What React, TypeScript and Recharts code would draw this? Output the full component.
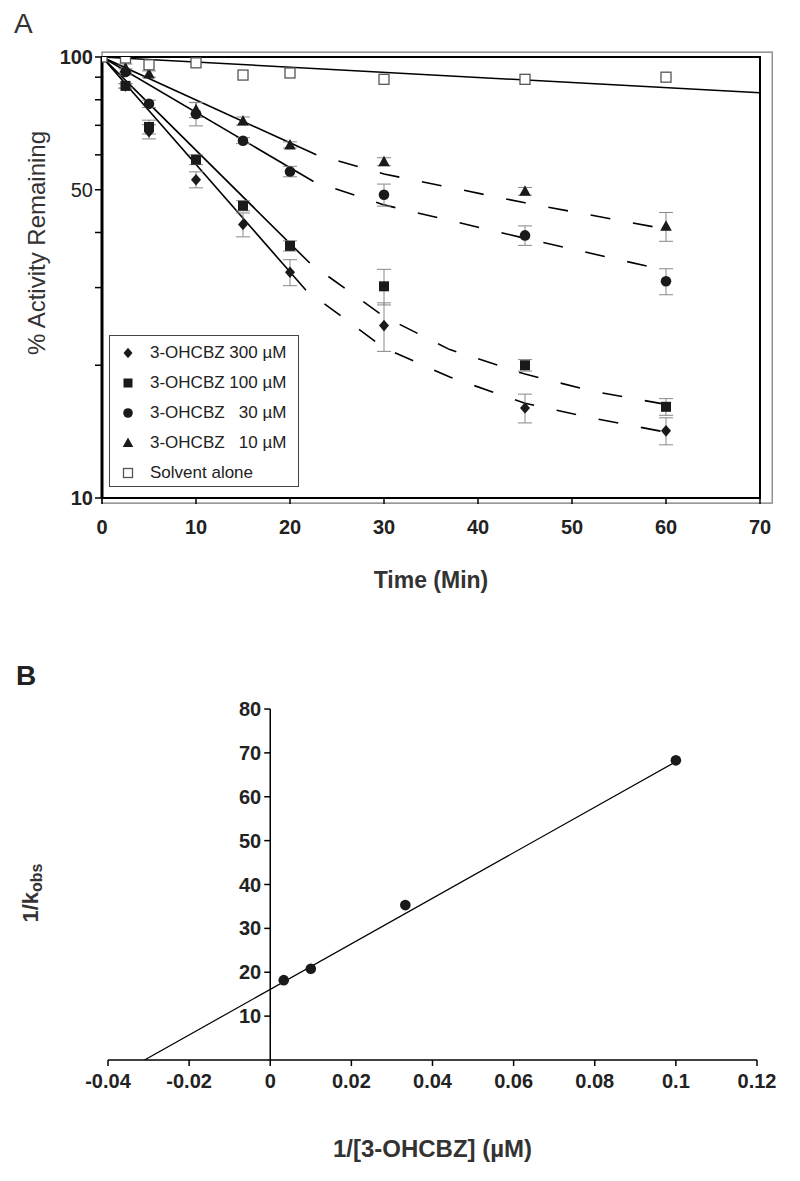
import React from 'react';
import {
  ComposedChart, Scatter, Line, XAxis, YAxis, ErrorBar,
  ReferenceArea, ReferenceLine, ReferenceDot, Legend,
} from 'recharts';

// ---- Panel A: % activity remaining vs time (log y) ----
const times = [0, 2.5, 5, 10, 15, 20, 30, 45, 60];
const act300 = [100, 86, 67.7, 52.7, 41.7, 32.5, 24.6, 16.0, 14.2];
const sem300 = [0, 1, 2.5, 2.2, 2.6, 2.2, 3.1, 1.2, 1.0];
const act100 = [100, 86, 69.4, 58.5, 46.0, 37.3, 30.2, 20.0, 16.1];
const sem100 = [0, 1, 2.5, 1.5, 1.2, 1.0, 2.8, 0.6, 0.7];
const act30 = [100, 92.5, 78.3, 74.3, 64.6, 55.0, 48.7, 39.4, 31.0];
const sem30 = [0, 1.5, 1.5, 4.5, 1.0, 1.5, 2.8, 2.0, 2.1];
const act10 = [100, 94.4, 91.5, 75.9, 71.6, 63.2, 57.9, 49.6, 41.3];
const sem10 = [0, 2, 1.5, 3, 1.5, 1, 1.2, 1, 3.1];
const actSolvent = [100, 99.5, 96, 97, 91, 92, 89, 89, 90];

// fitted curves (solid early phase, dashed later phase)
const fit300SolidT = [0, 21.7];
const fit300SolidY = [100, 29.6];
const fit300DashT = [21.7, 30, 37, 45, 52, 60];
const fit300DashY = [29.6, 21.9, 18.8, 16.4, 15.2, 14.1];
const fit100SolidT = [0, 22.1];
const fit100SolidY = [100, 34.1];
const fit100DashT = [22.1, 30, 37, 45, 52, 60];
const fit100DashY = [34.1, 25.8, 21.7, 19.1, 17.5, 16.3];
const fit30SolidT = [0, 22.5];
const fit30SolidY = [100, 52.2];
const fit30DashT = [22.5, 30, 45, 60];
const fit30DashY = [52.2, 46.2, 38.8, 32.8];
const fit10SolidT = [0, 22.8];
const fit10SolidY = [100, 60];
const fit10DashT = [22.8, 30, 45, 60];
const fit10DashY = [60, 54.3, 46.7, 40.7];
const fitSolventT = [0, 70];
const fitSolventY = [100, 83];

const timeTicks = [0, 10, 20, 30, 40, 50, 60, 70];
const activityTicks = [10, 20, 30, 40, 50, 60, 70, 80, 90, 100];
const activityLabels = [10, 50, 100];

const legendLabels = ['3-OHCBZ 300 \u00b5M', '3-OHCBZ 100 \u00b5M', '3-OHCBZ   30 \u00b5M', '3-OHCBZ   10 \u00b5M', 'Solvent alone'];
const legendKinds = ['diamond', 'square', 'circle', 'triangle', 'open'];

// ---- Panel B: double reciprocal plot ----
const invConc = [0.00333, 0.01, 0.0333, 0.1];
const invKobs = [18.2, 20.8, 35.3, 68.3];
const fitBX = [-0.031, 0.1];
const fitBY = [0, 68];
const xTicksB = [-0.04, -0.02, 0, 0.02, 0.04, 0.06, 0.08, 0.1, 0.12];
const yTicksB = [10, 20, 30, 40, 50, 60, 70, 80];

const pts = (ts: number[], ys: number[], es?: number[]) =>
  ts.map((t, i) => ({ t, y: ys[i], err: es ? es[i] : 0 }));

const narrow = "'Liberation Sans Narrow', 'Liberation Sans', Arial, sans-serif";
const sans = "'Liberation Sans', Arial, sans-serif";
const ink = '#1a1a1a';

const Mark = ({ cx, cy, kind, s = 10 }: any) => {
  const h = s / 2;
  if (kind === 'diamond')
    return <path d={`M${cx},${cy - h - 0.8}L${cx + h},${cy}L${cx},${cy + h + 0.8}L${cx - h},${cy}Z`} fill={ink} />;
  if (kind === 'square') return <rect x={cx - h} y={cy - h} width={s} height={s} fill={ink} />;
  if (kind === 'circle') return <circle cx={cx} cy={cy} r={h + 0.3} fill={ink} />;
  if (kind === 'triangle')
    return <path d={`M${cx},${cy - h - 1}L${cx + h + 0.8},${cy + h - 0.5}L${cx - h - 0.8},${cy + h - 0.5}Z`} fill={ink} />;
  return <rect x={cx - h} y={cy - h} width={s} height={s} fill="#fff" stroke="#555" strokeWidth={1.3} />;
};

const shapeOf = (kind: string, s?: number) => (p: any) => <Mark cx={p.cx} cy={p.cy} kind={kind} s={s} />;

const TimeTick = ({ x, y, payload }: any) => (
  <text x={x} y={y} dy={28} textAnchor="middle" fontFamily={narrow} fontWeight={700} fontSize={20} fill="#222">
    {payload.value}
  </text>
);

const ActivityTick = ({ x, y, payload }: any) => {
  const v = payload.value;
  if (!activityLabels.includes(v)) return <g />;
  const plain = v === 50;
  return (
    <text x={x} y={y} textAnchor="end" dominantBaseline="central" fontFamily={plain ? sans : narrow}
      fontWeight={plain ? 400 : 700} fontSize={20} fill="#222">
      {v}
    </text>
  );
};

const LegendA = () => (
  <div style={{ border: '1px solid #444', background: '#fff', width: 190, height: 152, boxSizing: 'border-box', paddingTop: 2, fontFamily: sans, fontSize: 17, color: '#222' }}>
    {legendLabels.map((lab, i) => (
      <div key={lab} style={{ height: 30, display: 'flex', alignItems: 'center', whiteSpace: 'pre' }}>
        <svg width={40} height={30}><Mark cx={18} cy={15} kind={legendKinds[i]} s={9} /></svg>
        <span>{lab}</span>
      </div>
    ))}
  </div>
);

const BTick = ({ x, y, payload }: any) => (
  <text x={x} y={y} dy={20} textAnchor="middle" fontFamily={narrow} fontWeight={700} fontSize={20} fill="#222">
    {String(payload.value)}
  </text>
);

const dash = { strokeDasharray: '20 23', strokeDashoffset: 20 };

export default function App() {
  return (
    <div style={{ position: 'absolute', left: 0, top: 0, width: 800, height: 1181, background: '#fff' }}>
      <div style={{ position: 'absolute', left: 14, top: 8, fontFamily: sans, fontSize: 28, color: '#333' }}>A</div>
      <ComposedChart width={800} height={600} margin={{ top: 57, right: 40, bottom: 0, left: 0 }}>
        <XAxis dataKey="t" type="number" domain={[0, 70]} ticks={timeTicks} allowDataOverflow
          height={102} tickSize={6} tick={<TimeTick />} axisLine={{ stroke: '#000', strokeWidth: 2 }}
          tickLine={{ stroke: '#000', strokeWidth: 1.5 }}
          label={{
            content: (p: any) => (
              <text x={p.viewBox.x + p.viewBox.width / 2} y={p.viewBox.y + 82} textAnchor="middle" dominantBaseline="central"
                fontFamily={sans} fontWeight={700} fontSize={23} fill="#333">Time (Min)</text>
            ),
          }} />
        <YAxis dataKey="y" scale="log" domain={[10, 100]} ticks={activityTicks} interval={0} allowDataOverflow
          width={102} tickSize={7} tick={<ActivityTick />} axisLine={{ stroke: '#000', strokeWidth: 3 }}
          tickLine={{ stroke: '#000', strokeWidth: 1.5 }}
          label={{
            content: () => (
              <text x={36} y={243} transform="rotate(-90, 36, 243)" textAnchor="middle" dominantBaseline="central"
                fontFamily={sans} fontSize={24} fill="#333">% Activity Remaining</text>
            ),
          }} />
        <ReferenceArea x1={0} x2={71.3} y1={9.74} y2={102.6} ifOverflow="visible" fill="none" stroke="#777" strokeWidth={1.2} />
        <ReferenceArea x1={0} x2={70} y1={10} y2={100} ifOverflow="visible" fill="none" stroke="#000" strokeWidth={2} />

        <Line data={pts(fitSolventT, fitSolventY)} dataKey="y" stroke="#000" strokeWidth={1.5} dot={false} isAnimationActive={false} />
        <Line data={pts(fit300SolidT, fit300SolidY)} dataKey="y" stroke="#000" strokeWidth={1.6} dot={false} isAnimationActive={false} />
        <Line data={pts(fit100SolidT, fit100SolidY)} dataKey="y" stroke="#000" strokeWidth={1.6} dot={false} isAnimationActive={false} />
        <Line data={pts(fit30SolidT, fit30SolidY)} dataKey="y" stroke="#000" strokeWidth={1.6} dot={false} isAnimationActive={false} />
        <Line data={pts(fit10SolidT, fit10SolidY)} dataKey="y" stroke="#000" strokeWidth={1.6} dot={false} isAnimationActive={false} />
        <Line data={pts(fit300DashT, fit300DashY)} dataKey="y" stroke="#000" strokeWidth={1.6} {...dash} dot={false} isAnimationActive={false} />
        <Line data={pts(fit100DashT, fit100DashY)} dataKey="y" stroke="#000" strokeWidth={1.6} {...dash} dot={false} isAnimationActive={false} />
        <Line data={pts(fit30DashT, fit30DashY)} dataKey="y" stroke="#000" strokeWidth={1.6} {...dash} dot={false} isAnimationActive={false} />
        <Line data={pts(fit10DashT, fit10DashY)} dataKey="y" stroke="#000" strokeWidth={1.6} {...dash} dot={false} isAnimationActive={false} />

        <Scatter data={pts(times, act300, sem300)} dataKey="y" shape={shapeOf('diamond')} isAnimationActive={false}>
          <ErrorBar dataKey="err" direction="y" width={7} stroke="#888" strokeWidth={1} />
        </Scatter>
        <Scatter data={pts(times, act100, sem100)} dataKey="y" shape={shapeOf('square')} isAnimationActive={false}>
          <ErrorBar dataKey="err" direction="y" width={7} stroke="#888" strokeWidth={1} />
        </Scatter>
        <Scatter data={pts(times, act30, sem30)} dataKey="y" shape={shapeOf('circle')} isAnimationActive={false}>
          <ErrorBar dataKey="err" direction="y" width={7} stroke="#888" strokeWidth={1} />
        </Scatter>
        <Scatter data={pts(times, act10, sem10)} dataKey="y" shape={shapeOf('triangle')} isAnimationActive={false}>
          <ErrorBar dataKey="err" direction="y" width={7} stroke="#888" strokeWidth={1} />
        </Scatter>
        <Scatter data={pts(times, actSolvent)} dataKey="y" shape={shapeOf('open', 10)} isAnimationActive={false} />
        <Legend layout="horizontal" verticalAlign="middle" align="center" content={<LegendA />}
          wrapperStyle={{ left: 109, top: 335, width: 190, height: 152 }} />
      </ComposedChart>

      <div style={{ position: 'absolute', left: 16, top: 660, fontFamily: sans, fontWeight: 700, fontSize: 28, color: '#222' }}>B</div>
      <div style={{ position: 'absolute', left: 0, top: 620 }}>
        <ComposedChart width={800} height={561} margin={{ top: 89, right: 43, bottom: 0, left: 0 }}>
          <XAxis dataKey="x" type="number" domain={[-0.04, 0.12]} ticks={xTicksB} interval={0} allowDataOverflow
            height={121} tickSize={6} tick={<BTick />} axisLine={{ stroke: '#000', strokeWidth: 1.5 }}
            tickLine={{ stroke: '#000', strokeWidth: 1.5 }}
            label={{
              content: (p: any) => (
                <text x={p.viewBox.x + p.viewBox.width / 2} y={p.viewBox.y + 88} textAnchor="middle" dominantBaseline="central"
                  fontFamily={sans} fontWeight={700} fontSize={24} fill="#333">1/[3-OHCBZ] (µM)</text>
              ),
            }} />
          <YAxis dataKey="y" type="number" domain={[0, 80]} allowDataOverflow width={108}
            tick={false} tickLine={false} axisLine={false}
            label={{
              content: () => (
                <text x={30} y={273} transform="rotate(-90, 30, 273)" textAnchor="middle" dominantBaseline="central"
                  fontFamily={sans} fontWeight={700} fontSize={22} fill="#333">
                  1/k<tspan dy={6} fontSize={16}>obs</tspan>
                </text>
              ),
            }} />
          <ReferenceLine x={0} stroke="#000" strokeWidth={1.5} />
          {yTicksB.map((v) => (
            <ReferenceDot key={v} x={0} y={v} r={0} ifOverflow="visible"
              shape={(p: any) => (
                <g>
                  <line x1={p.cx - 6} y1={p.cy} x2={p.cx} y2={p.cy} stroke="#000" strokeWidth={1.5} />
                  <text x={p.cx - 9} y={p.cy} textAnchor="end" dominantBaseline="central" fontFamily={narrow}
                    fontWeight={700} fontSize={20} fill="#222">{v}</text>
                </g>
              )} />
          ))}
          <Line data={fitBX.map((x, i) => ({ x, y: fitBY[i] }))} dataKey="y" stroke="#000" strokeWidth={1.2} dot={false} isAnimationActive={false} />
          <Scatter data={invConc.map((x, i) => ({ x, y: invKobs[i] }))} dataKey="y" shape={shapeOf('circle', 10)} isAnimationActive={false} />
        </ComposedChart>
      </div>
    </div>
  );
}
